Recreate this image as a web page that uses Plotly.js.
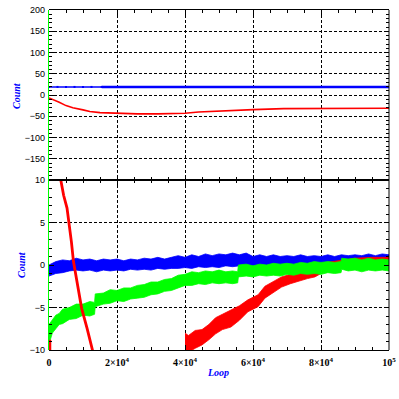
<!DOCTYPE html>
<html><head><meta charset="utf-8">
<script src="https://cdn.plot.ly/plotly-3.0.1.min.js"></script>
<style>html,body{margin:0;padding:0;background:#fff}#chart{width:399px;height:399px}</style>
</head><body><div id="chart"></div>
<script>
// ---------- data ----------
// top panel
const topRedX = [0, 1000, 2000, 3000, 5000, 7000, 10000, 12000, 15000, 20000, 26000, 32000, 40000, 44000, 51000, 60000, 69000, 80000, 88000, 100000];
const topRedY = [-7, -10, -14, -17, -25, -30, -35, -39, -41.5, -43, -44.5, -44.5, -43, -40, -37, -34.5, -32, -31.5, -31, -31];
const topBlueThinX = [0, 2500, 5000, 7500, 10000, 12500, 15500];
const topBlueThinY = [19, 19, 19, 19, 19, 19, 19];
const topBlueX = [15500, 100000];
const topBlueY = [19, 19];

// bottom panel
const blueX = [0,2000,4000,6000,8000,10000,12000,14000,16000,18000,20000,22000,24000,26000,28000,30000,32000,34000,36000,38000,40000,42000,44000,46000,48000,50000,52000,54000,56000,58000,60000,62000,64000,66000,68000,70000,72000,74000,76000,78000,80000,82000,84000,86000,88000,90000,92000,94000,96000,98000,100000];
const blueHi = [0.0,0.4,0.6,0.5,0.8,0.6,0.7,0.5,0.7,0.6,0.7,0.5,0.7,0.6,0.8,0.7,0.9,0.7,0.9,1.1,0.9,1.2,1.0,1.3,1.1,1.3,1.2,1.4,1.2,1.4,1.0,1.2,1.0,1.2,1.0,1.1,1.0,1.2,1.0,1.1,1.0,1.2,1.0,1.2,1.1,1.2,1.1,1.3,1.1,1.3,1.2];
const blueLo = [-1.3,-1.0,-0.9,-0.7,-0.6,-0.7,-0.6,-0.8,-0.6,-0.7,-0.6,-0.7,-0.5,-0.6,-0.5,-0.6,-0.4,-0.5,-0.4,-0.4,-0.3,-0.4,-0.2,-0.3,-0.2,-0.3,-0.1,-0.2,-0.1,-0.2,-0.2,-0.1,-0.2,-0.1,-0.1,0.0,-0.1,0.0,-0.1,0.0,0.0,0.1,0.0,0.2,0.1,0.2,0.2,0.3,0.2,0.4,0.3];

const greenX = [0,1000,2000,3000,4000,6000,8000,10000,12000,13400,13600,16000,18000,20000,22000,24000,26000,28000,30000,32000,34000,36000,38000,40000,42000,44000,46000,48000,50000,52000,54000,55500,55700,58000,60000,62000,64000,66000,68000,70000,72000,74000,76000,78000,80000,82000,84000,85900,86100,88000,90000,92000,94000,96000,98000,100000];
const greenLo = [-9.3,-8.0,-7.5,-7.0,-6.9,-6.4,-6.3,-5.9,-6.0,-5.8,-4.9,-4.6,-4.5,-4.2,-4.3,-4.0,-3.9,-3.8,-3.5,-3.4,-3.1,-3.0,-2.7,-2.4,-2.4,-2.2,-2.3,-2.1,-2.2,-2.1,-2.2,-2.1,-1.4,-1.3,-1.4,-1.2,-1.3,-1.2,-1.3,-1.1,-1.2,-1.0,-1.1,-1.0,-1.1,-0.9,-1.0,-0.9,-0.5,-0.7,-0.6,-0.8,-0.6,-0.7,-0.6,-0.7];
const greenHi = [-7.0,-6.4,-5.9,-5.7,-5.2,-5.0,-4.6,-4.6,-4.3,-4.4,-3.4,-3.3,-2.9,-3.0,-2.7,-2.7,-2.4,-2.3,-2.0,-2.0,-1.7,-1.6,-1.2,-1.1,-0.8,-0.9,-0.7,-0.8,-0.6,-0.8,-0.7,-0.8,0.0,0.1,-0.1,0.1,0.0,0.2,0.1,0.2,0.1,0.3,0.2,0.4,0.3,0.4,0.3,0.4,0.8,0.7,0.8,0.6,0.8,0.6,0.7,0.6];

const redSteepX = [3000, 3500, 4300, 5300, 5900, 6600, 7200, 8300, 9600, 11200, 12800, 13400];
const redSteepY = [11, 9.9, 8.2, 6.7, 5.0, 2.7, 0.4, -2.35, -5.1, -7.45, -9.8, -11];
const redStartX = [300, 300];
const redStartY = [-8.8, -10.5];
const redLateX = [40000, 41000, 43000, 45000, 47000, 49000, 51000, 53500, 56000, 58500, 61500, 63500, 66000, 68400, 71000, 73300, 76000, 78200, 80000, 83000, 86000, 90000, 95000, 100000];
const redLateLo = [-10.5, -10.3, -9.8, -9.4, -8.8, -8.1, -7.6, -7.3, -6.5, -5.5, -4.9, -3.9, -3.2, -2.6, -2.2, -1.9, -1.6, -1.4, -1.0, -0.6, -0.3, 0.0, 0.1, 0.2];
const redLateHi = [-8.0, -8.3, -7.7, -7.6, -7.0, -6.2, -5.8, -5.3, -4.8, -4.1, -3.5, -2.5, -1.9, -1.4, -1.1, -0.8, -0.5, -0.2, 0.2, 0.4, 0.6, 0.8, 0.9, 0.9];

const xTickVals = [0, 20000, 40000, 60000, 80000, 100000];
const xTickText = ['0', '2×10<sup>4</sup>', '4×10<sup>4</sup>', '6×10<sup>4</sup>', '8×10<sup>4</sup>', '10<sup>5</sup>'];
const topTickVals = [-150, -100, -50, 0, 50, 100, 150, 200];
const botTickVals = [-10, -5, 0, 5, 10];

// ---------- helpers ----------
function band(x, lo, hi, color, xa, ya) {
  return {
    x: x.concat(x.slice().reverse()),
    y: hi.concat(lo.slice().reverse()),
    xaxis: xa, yaxis: ya, type: 'scatter', mode: 'lines',
    fill: 'toself', fillcolor: color,
    line: {color: color, width: 0.8}, hoverinfo: 'skip', showlegend: false
  };
}

const traces = [
  {x: topRedX, y: topRedY, xaxis: 'x2', yaxis: 'y2', type: 'scatter', mode: 'lines', line: {color: '#ff0000', width: 1.6}, showlegend: false},
  {x: topBlueX, y: topBlueY, xaxis: 'x2', yaxis: 'y2', type: 'scatter', mode: 'lines', line: {color: '#0000ff', width: 2.6}, showlegend: false},
  band(blueX, blueLo, blueHi, '#0000ff', 'x', 'y'),
  band(redLateX, redLateLo, redLateHi, '#ff0000', 'x', 'y'),
  band(greenX, greenLo, greenHi, '#00ff00', 'x', 'y'),
  {x: redSteepX, y: redSteepY, xaxis: 'x', yaxis: 'y', type: 'scatter', mode: 'lines', line: {color: '#ff0000', width: 2.8}, showlegend: false},
  {x: redStartX, y: redStartY, xaxis: 'x', yaxis: 'y', type: 'scatter', mode: 'lines', line: {color: '#ff0000', width: 2.5}, showlegend: false},
  {x: topBlueThinX, y: topBlueThinY, xaxis: 'x2', yaxis: 'y2', type: 'scatter', mode: 'lines+markers',
   line: {color: '#0000ff', width: 1.5}, marker: {color: '#0000ff', size: 2, symbol: 'square'}, cliponaxis: false, showlegend: false}
];

const L = 49/399, R = 389/399, B = 1 - 350/399, M = 1 - 180/399, T = 1 - 10/399;
const tickFontY = {family: 'Liberation Sans, Arial, sans-serif', size: 9, color: '#000'};
const tickFontX = {family: 'Liberation Serif, serif', size: 10, color: '#000', weight: 'bold'};

const commonX = {
  range: [0, 100000], tickvals: xTickVals, ticktext: xTickText,
  ticks: 'inside', ticklen: 5, tickcolor: '#000', tickwidth: 1,
  showline: true, linecolor: '#000', linewidth: 1, mirror: 'ticks',
  showgrid: true, gridcolor: '#000', gridwidth: 1, griddash: '3px,2px', zeroline: false,
  minor: {dtick: 5000, tick0: 0, ticks: 'inside', ticklen: 3, tickcolor: '#000', showgrid: false}
};

const layout = {
  width: 399, height: 399,
  margin: {l: 0, r: 0, t: 0, b: 0},
  paper_bgcolor: '#fff', plot_bgcolor: '#fff',
  showlegend: false,
  xaxis: Object.assign({}, commonX, {domain: [L, R], anchor: 'y', tickfont: tickFontX, ticklabelstandoff: 3}),
  xaxis2: Object.assign({}, commonX, {domain: [L, R], anchor: 'y2', showticklabels: false}),
  yaxis: {
    domain: [B, M], anchor: 'x', range: [-10, 10], tickvals: botTickVals,
    ticks: 'inside', ticklen: 5, tickcolor: '#000', mirror: 'ticks', showline: false,
    showgrid: true, gridcolor: '#000', gridwidth: 1, griddash: '3px,2px', zeroline: false,
    tickfont: tickFontY, ticklabelstandoff: 3,
    minor: {dtick: 1, tick0: 0, ticks: 'inside', ticklen: 3, tickcolor: '#000', showgrid: false}
  },
  yaxis2: {
    domain: [M, T], anchor: 'x2', range: [-200, 200], tickvals: topTickVals,
    ticks: 'inside', ticklen: 5, tickcolor: '#000', mirror: 'ticks', showline: false,
    showgrid: true, gridcolor: '#000', gridwidth: 1, griddash: '3px,2px', zeroline: false,
    tickfont: tickFontY, ticklabelstandoff: 3,
    minor: {dtick: 10, tick0: 0, ticks: 'inside', ticklen: 3, tickcolor: '#000', showgrid: false}
  },
  shapes: [
    {type: 'line', xref: 'paper', yref: 'paper', x0: R, x1: R, y0: B, y1: T, line: {color: '#000', width: 1}},
    {type: 'line', xref: 'paper', yref: 'paper', x0: L - 0.5/399, x1: L - 0.5/399, y0: B, y1: T, line: {color: '#00ff00', width: 1}}
  ],
  annotations: [
    {text: '<i><b>Count</b></i>', xref: 'paper', yref: 'paper', x: 16/399, y: 1 - 96/399, showarrow: false, textangle: -90,
     xanchor: 'center', yanchor: 'middle', font: {family: 'Liberation Serif, serif', size: 10, color: '#0000ff'}},
    {text: '<i><b>Count</b></i>', xref: 'paper', yref: 'paper', x: 21/399, y: 1 - 265/399, showarrow: false, textangle: -90,
     xanchor: 'center', yanchor: 'middle', font: {family: 'Liberation Serif, serif', size: 10, color: '#0000ff'}},
    {text: '<i><b>Loop</b></i>', xref: 'paper', yref: 'paper', x: 218/399, y: 1 - 372/399, showarrow: false,
     xanchor: 'center', yanchor: 'middle', font: {family: 'Liberation Serif, serif', size: 10, color: '#0000ff'}}
  ]
};

Plotly.newPlot('chart', traces, layout, {displayModeBar: false, staticPlot: true});
</script>
</body></html>
